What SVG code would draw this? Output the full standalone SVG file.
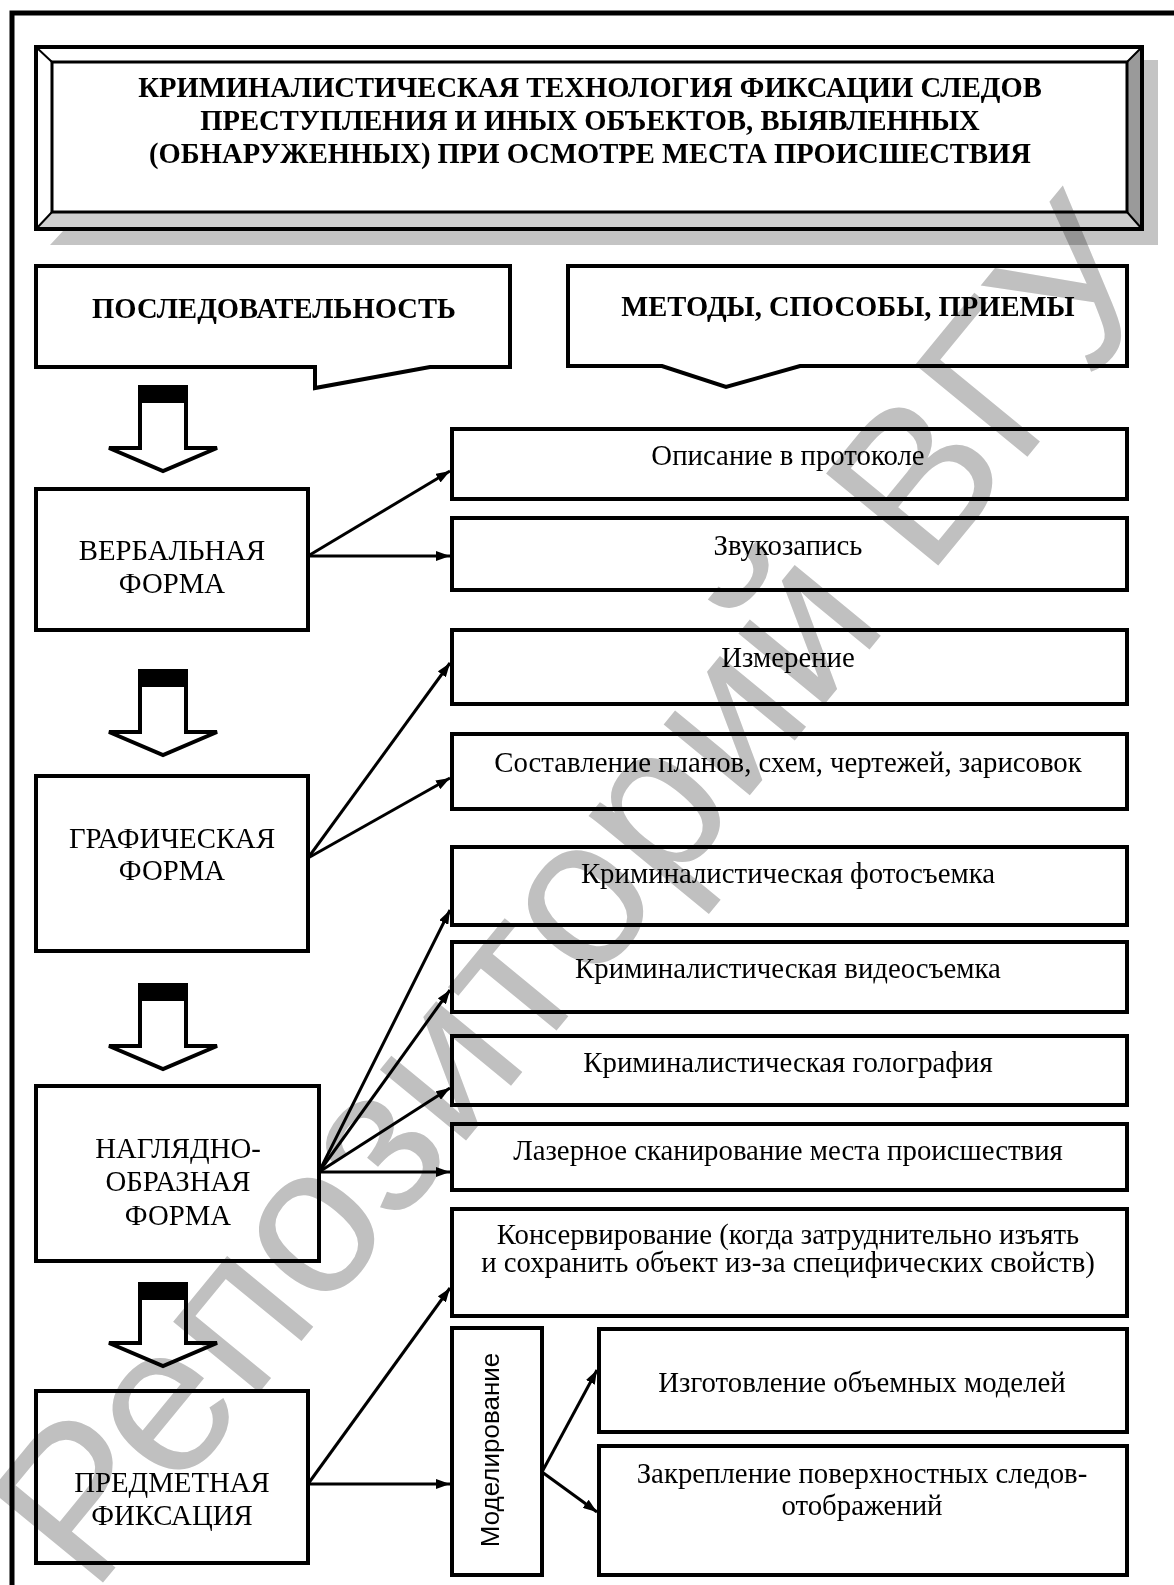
<svg xmlns="http://www.w3.org/2000/svg" width="1174" height="1585" viewBox="0 0 1174 1585">
<defs>
<style>
.box{fill:#fff;stroke:#000;stroke-width:4}
.t{font-family:"Liberation Serif","Times New Roman",serif;font-size:28.8px;fill:#000;text-anchor:middle}
.b{font-weight:bold;font-size:28.6px}
.s{font-family:"Liberation Sans",Arial,sans-serif;font-size:26px;fill:#000;text-anchor:middle}
.c{fill:none;stroke:#000;stroke-width:3;marker-end:url(#ah)}
.blk{fill:#fff;stroke:#000;stroke-width:4;stroke-linejoin:miter}
.wm{mix-blend-mode:multiply}
</style>
<marker id="ah" markerUnits="userSpaceOnUse" markerWidth="14" markerHeight="10" refX="14" refY="5" orient="auto">
<path d="M0,0 L14,5 L0,10 z" fill="#000"/>
</marker>
</defs>
<rect width="1174" height="1585" fill="#fff"/>
<g id="frame">
<path d="M12,1585 L12,13 L1174,13" fill="none" stroke="#000" stroke-width="5"/>
</g>
<g id="title">
<polygon points="1144,60 1158,60 1158,245 50,245 63,231 1144,231" fill="#c4c4c4"/>
<rect x="36" y="47" width="1106" height="182" fill="#fff"/>
<polygon points="1142,47 1142,229 1127,212 1127,62" fill="#9a9a9a"/>
<polygon points="36,229 1142,229 1127,212 52,212" fill="#cfcfcf"/>
<path d="M36,47 L52,62 M1142,47 L1127,62 M36,229 L52,212 M1142,229 L1127,212" stroke="#000" stroke-width="2"/>
<rect x="36" y="47" width="1106" height="182" fill="none" stroke="#000" stroke-width="4"/>
<rect x="52" y="62" width="1075" height="150" fill="none" stroke="#000" stroke-width="3"/>
<text class="t b" x="590" y="97">КРИМИНАЛИСТИЧЕСКАЯ ТЕХНОЛОГИЯ ФИКСАЦИИ СЛЕДОВ</text>
<text class="t b" x="590" y="130">ПРЕСТУПЛЕНИЯ И ИНЫХ ОБЪЕКТОВ, ВЫЯВЛЕННЫХ</text>
<text class="t b" x="590" y="163">(ОБНАРУЖЕННЫХ) ПРИ ОСМОТРЕ МЕСТА ПРОИСШЕСТВИЯ</text>
</g>
<g id="sequence">
<path class="box" d="M36,266 L510,266 L510,367 L430,367 L315,388 L315,367 L36,367 Z"/>
<text class="t b" x="274" y="318">ПОСЛЕДОВАТЕЛЬНОСТЬ</text>
</g>
<g id="methods">
<path class="box" d="M568,266 L1127,266 L1127,366 L800,366 L726,387 L662,366 L568,366 Z"/>
<text class="t b" x="848" y="316">МЕТОДЫ, СПОСОБЫ, ПРИЕМЫ</text>
</g>
<g id="step-arrows">
<g id="arrow1"><polygon class="blk" points="140,387 186,387 186,448 217,448 163,471 109,448 140,448"/><rect x="140" y="387" width="46" height="16" fill="#000"/></g>
<g id="arrow2"><polygon class="blk" points="140,671 186,671 186,732 217,732 163,755 109,732 140,732"/><rect x="140" y="671" width="46" height="16" fill="#000"/></g>
<g id="arrow3"><polygon class="blk" points="140,985 186,985 186,1046 217,1046 163,1069 109,1046 140,1046"/><rect x="140" y="985" width="46" height="16" fill="#000"/></g>
<g id="arrow4"><polygon class="blk" points="140,1284 186,1284 186,1343 217,1343 163,1366 109,1343 140,1343"/><rect x="140" y="1284" width="46" height="16" fill="#000"/></g>
</g>
<g id="verbal"><rect class="box" x="36" y="489" width="272" height="141"/>
<text class="t" x="172" y="560">ВЕРБАЛЬНАЯ</text><text class="t" x="172" y="593">ФОРМА</text></g>
<g id="graphic"><rect class="box" x="36" y="776" width="272" height="175"/>
<text class="t" x="172" y="848">ГРАФИЧЕСКАЯ</text><text class="t" x="172" y="880">ФОРМА</text></g>
<g id="visual"><rect class="box" x="36" y="1086" width="283" height="175"/>
<text class="t" x="178" y="1158">НАГЛЯДНО-</text><text class="t" x="178" y="1191">ОБРАЗНАЯ</text><text class="t" x="178" y="1225">ФОРМА</text></g>
<g id="object"><rect class="box" x="36" y="1391" width="272" height="172"/>
<text class="t" x="172" y="1492">ПРЕДМЕТНАЯ</text><text class="t" x="172" y="1525">ФИКСАЦИЯ</text></g>
<g id="r1"><rect class="box" x="452" y="429" width="675" height="70"/><text class="t" x="788" y="465">Описание в протоколе</text></g>
<g id="r2"><rect class="box" x="452" y="518" width="675" height="72"/><text class="t" x="788" y="555">Звукозапись</text></g>
<g id="r3"><rect class="box" x="452" y="630" width="675" height="74"/><text class="t" x="788" y="667">Измерение</text></g>
<g id="r4"><rect class="box" x="452" y="734" width="675" height="75"/><text class="t" x="788" y="772">Составление планов, схем, чертежей, зарисовок</text></g>
<g id="r5"><rect class="box" x="452" y="847" width="675" height="78"/><text class="t" x="788" y="883">Криминалистическая фотосъемка</text></g>
<g id="r6"><rect class="box" x="452" y="942" width="675" height="70"/><text class="t" x="788" y="978">Криминалистическая видеосъемка</text></g>
<g id="r7"><rect class="box" x="452" y="1036" width="675" height="69"/><text class="t" x="788" y="1072">Криминалистическая голография</text></g>
<g id="r8"><rect class="box" x="452" y="1124" width="675" height="66"/><text class="t" x="788" y="1160">Лазерное сканирование места происшествия</text></g>
<g id="r9"><rect class="box" x="452" y="1209" width="675" height="107"/><text class="t" x="788" y="1244">Консервирование (когда затруднительно изъять</text><text class="t" x="788" y="1272">и сохранить объект из-за специфических свойств)</text></g>
<g id="modeling"><rect class="box" x="452" y="1328" width="90" height="247"/><text class="s" transform="translate(499,1450) rotate(-90)">Моделирование</text></g>
<g id="r10"><rect class="box" x="599" y="1329" width="528" height="103"/><text class="t" x="862" y="1392">Изготовление объемных моделей</text></g>
<g id="r11"><rect class="box" x="599" y="1446" width="528" height="129"/><text class="t" x="862" y="1483">Закрепление поверхностных следов-</text><text class="t" x="862" y="1515">отображений</text></g>
<g id="connectors">
<line class="c" x1="308" y1="556" x2="450" y2="471"/>
<line class="c" x1="308" y1="556" x2="450" y2="556"/>
<line class="c" x1="308" y1="858" x2="450" y2="663"/>
<line class="c" x1="308" y1="858" x2="450" y2="778"/>
<line class="c" x1="319" y1="1172" x2="450" y2="910"/>
<line class="c" x1="319" y1="1172" x2="450" y2="990"/>
<line class="c" x1="319" y1="1172" x2="450" y2="1088"/>
<line class="c" x1="319" y1="1172" x2="450" y2="1172"/>
<line class="c" x1="308" y1="1484" x2="450" y2="1288"/>
<line class="c" x1="308" y1="1484" x2="450" y2="1484"/>
<line class="c" x1="542" y1="1472" x2="597" y2="1370"/>
<line class="c" x1="542" y1="1472" x2="597" y2="1512"/>
</g>
<g id="watermark" class="wm">
<text transform="translate(92,1596) rotate(-50.6)" font-family="Liberation Sans, Arial, sans-serif" font-size="211" fill="#c0c0c0">Репозиторий ВГУ</text>
</g>
</svg>
